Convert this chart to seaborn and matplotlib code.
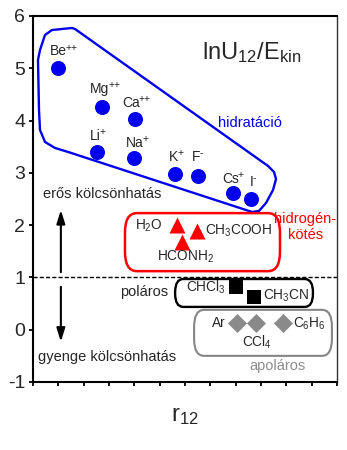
import numpy as np
import pandas as pd
import matplotlib
matplotlib.use("Agg")
import matplotlib.pyplot as plt
import seaborn as sns
from matplotlib.patches import FancyBboxPatch, Polygon

# ---------------- data ----------------
ion_names = ["Be", "Mg", "Ca", "Li", "Na", "K", "F", "Cs", "I"]
ion_charges = ["++", "++", "++", "+", "+", "+", "-", "+", "-"]
ion_x = [0.99, 2.73, 4.03, 2.52, 3.99, 5.61, 6.51, 7.90, 8.61]
ion_y = [5.00, 4.26, 4.03, 3.40, 3.29, 2.98, 2.94, 2.62, 2.50]
# label offsets (pixels) from the point: left edge, baseline
ion_dx = [-8, -12, -13, -7, -8, -6, -6, -11, -1]
ion_dy = [13, 14, 12, 12, 11, 13, 15, 10, 13]

hb_names = [r"$\mathregular{H_2O}$", r"$\mathregular{CH_3COOH}$", r"$\mathregular{HCONH_2}$"]
hb_x = [5.69, 6.47, 5.88]
hb_y = [2.01, 1.89, 1.68]

pol_names = [r"$\mathregular{CHCl_3}$", r"$\mathregular{CH_3CN}$"]
pol_x = [8.00, 8.71]
pol_y = [0.81, 0.63]

apol_names = ["Ar", r"$\mathregular{CCl_4}$", r"$\mathregular{C_6H_6}$"]
apol_x = [8.05, 8.80, 9.86]
apol_y = [0.13, 0.13, 0.13]

y_ticks = [-1, 0, 1, 2, 3, 4, 5, 6]
x_ticks = list(range(0, 13))

# outline of the hydration group (data coords)
hull_x = [0.237, 0.276, 0.474, 0.869, 1.382, 8.646, 8.922, 9.199, 9.475, 9.593,
          9.514, 9.277, 1.658, 1.540, 0.750, 0.474, 0.276, 0.197]
hull_y = [4.203, 3.820, 3.591, 3.476, 3.400, 2.252, 2.272, 2.424, 2.673, 2.883,
          3.017, 3.132, 5.751, 5.771, 5.732, 5.637, 5.350, 5.159]

# ---------------- style ----------------
sns.set_theme(style="ticks")
plt.rcParams["font.family"] = ["Liberation Sans", "DejaVu Sans"]
plt.rcParams["mathtext.fontset"] = "custom"
plt.rcParams["mathtext.rm"] = "Liberation Sans"
plt.rcParams["mathtext.it"] = "Liberation Sans:italic"
plt.rcParams["mathtext.bf"] = "Liberation Sans:bold"
plt.rcParams["axes.unicode_minus"] = False

BLUE = "#0000ee"
RED = "#ff0000"
GRAY = "#8a8a8a"

fig = plt.figure(figsize=(3.47, 4.5), dpi=100)
ax = fig.add_axes([33 / 347, 1 - 382 / 450, (337 - 33) / 347, (382 - 16) / 450])

df_ion = pd.DataFrame({"x": ion_x, "y": ion_y})
df_hb = pd.DataFrame({"x": hb_x, "y": hb_y})
df_pol = pd.DataFrame({"x": pol_x, "y": pol_y})
df_apol = pd.DataFrame({"x": apol_x, "y": apol_y})

sns.scatterplot(data=df_ion, x="x", y="y", ax=ax, color=BLUE, marker="o", s=117,
                linewidth=0, legend=False, zorder=3)
sns.scatterplot(data=df_hb, x="x", y="y", ax=ax, color=RED, marker="^", s=133,
                linewidth=0, legend=False, zorder=3)
sns.scatterplot(data=df_pol, x="x", y="y", ax=ax, color="black", marker="s", s=100,
                linewidth=0, legend=False, zorder=3)
sns.scatterplot(data=df_apol, x="x", y="y", ax=ax, color=GRAY, marker="D", s=94,
                linewidth=0, legend=False, zorder=3)

ax.set_xlim(0, 12)
ax.set_ylim(-1, 6)
ax.set_xticks(x_ticks)
ax.set_xticklabels([])
ax.set_yticks(y_ticks)
ax.set_yticklabels([str(t) for t in y_ticks])
ax.tick_params(axis="both", direction="out", length=3.2, width=1.3, color="black",
               labelsize=14, pad=2.5)
for side in ["left", "bottom", "top"]:
    ax.spines[side].set_linewidth(1.5)
    ax.spines[side].set_color("black")
ax.spines["right"].set_linewidth(1.0)
ax.spines["right"].set_color("#333333")
ax.set_xlabel(r"$\mathregular{r_{12}}$", fontsize=17, labelpad=11)
ax.set_ylabel("")

# outlines
ax.add_patch(Polygon(np.column_stack([hull_x, hull_y]), closed=True, fill=False,
                     edgecolor=BLUE, lw=1.7, joinstyle="round", zorder=2))
ax.add_patch(FancyBboxPatch((3.63, 1.12), 9.75 - 3.63, 2.23 - 1.12,
                            boxstyle="round,pad=0,rounding_size=0.47", mutation_aspect=0.8,
                            fill=False, edgecolor=RED, lw=1.8, zorder=2))
ax.add_patch(FancyBboxPatch((5.61, 0.436), 11.05 - 5.61, 0.97 - 0.436,
                            boxstyle="round,pad=0,rounding_size=0.32", mutation_aspect=0.8,
                            fill=False, edgecolor="black", lw=1.7, zorder=2))
ax.add_patch(FancyBboxPatch((6.36, -0.50), 11.8 - 6.36, 0.38 + 0.50,
                            boxstyle="round,pad=0,rounding_size=0.4", mutation_aspect=0.8,
                            fill=False, edgecolor="#858585", lw=1.5, zorder=2))

ax.axhline(1, color="black", lw=1.0, ls=(0, (3, 1.5)), zorder=1)

# arrows
arrow_kw = dict(arrowstyle="-|>,head_length=0.8,head_width=0.25", mutation_scale=10,
                lw=1.5, color="black", shrinkA=0, shrinkB=0)
ax.annotate("", xy=(1.1, 2.29), xytext=(1.1, 1.10), arrowprops=arrow_kw)
ax.annotate("", xy=(1.1, -0.23), xytext=(1.1, 0.82), arrowprops=arrow_kw)

# ion labels (name + small raised charge)
for name, ch, x, y, dx, dy in zip(ion_names, ion_charges, ion_x, ion_y, ion_dx, ion_dy):
    t = ax.annotate(name, xy=(x, y), xytext=(dx, dy), textcoords="offset pixels",
                    ha="left", va="baseline", fontsize=10)
    ax.annotate(ch, xy=(1, 1), xycoords=t, xytext=(-0.8, -2.5), textcoords="offset points",
                ha="left", va="center", fontsize=7.5)

# molecule labels
mol_fs = 9.8
ax.text(5.13, 1.908, hb_names[0], ha="right", va="baseline", fontsize=mol_fs)
ax.text(6.79, 1.81, hb_names[1], ha="left", va="baseline", fontsize=mol_fs)
ax.text(4.90, 1.316, hb_names[2], ha="left", va="baseline", fontsize=mol_fs)
ax.text(6.04, 0.723, pol_names[0], ha="left", va="baseline", fontsize=mol_fs)
ax.text(9.08, 0.57, pol_names[1], ha="left", va="baseline", fontsize=mol_fs)
ax.text(7.07, 0.053, apol_names[0], ha="left", va="baseline", fontsize=mol_fs)
ax.text(8.25, -0.33, apol_names[1], ha="left", va="baseline", fontsize=mol_fs)
ax.text(10.26, 0.035, apol_names[2], ha="left", va="baseline", fontsize=mol_fs)

# group / annotation texts
txt_fs = 10.5
ax.text(2.72, 2.597, "erős kölcsönhatás", ha="center", va="center", fontsize=txt_fs)
ax.text(2.92, -0.52, "gyenge kölcsönhatás", ha="center", va="center", fontsize=txt_fs)
ax.text(5.33, 0.72, "poláros", ha="right", va="center", fontsize=txt_fs)
ax.text(8.57, 3.95, "hidratáció", ha="center", va="center", fontsize=txt_fs, color=BLUE)
ax.text(10.75, 2.12, "hidrogén-", ha="center", va="center", fontsize=txt_fs, color=RED)
ax.text(10.75, 1.81, "kötés", ha="center", va="center", fontsize=txt_fs, color=RED)
ax.text(9.67, -0.69, "apoláros", ha="center", va="center", fontsize=txt_fs, color="#8c8c8c")
ax.text(8.65, 5.18, r"$\mathregular{lnU_{12}/E_{kin}}$", ha="center", va="baseline", fontsize=17)

fig.savefig("out.png", dpi=100)
